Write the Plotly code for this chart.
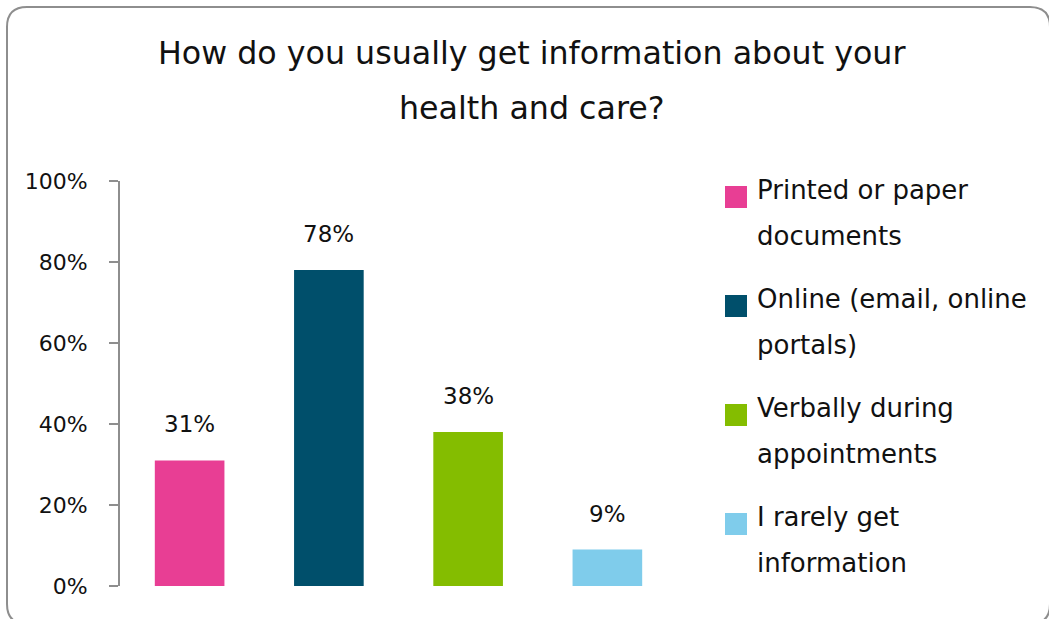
import plotly.graph_objects as go

# Survey results
categories = [
    "Printed or paper documents",
    "Online (email, online portals)",
    "Verbally during appointments",
    "I rarely get information",
]
values = [31, 78, 38, 9]
value_labels = ["31%", "78%", "38%", "9%"]
legend_lines = [
    ["Printed or paper", "documents"],
    ["Online (email, online", "portals)"],
    ["Verbally during", "appointments"],
    ["I rarely get", "information"],
]
colors = ["#E83E94", "#004F6B", "#84BD00", "#7FCCEB"]
title_lines = ["How do you usually get information about your", "health and care?"]
y_ticks = [0, 20, 40, 60, 80, 100]
y_tick_text = ["0%", "20%", "40%", "60%", "80%", "100%"]

W, H = 1049, 619
L, R, T, B = 120, 372, 181, 33
PW, PH = W - L - R, H - T - B
FONT = "DejaVu Sans"
GRAY = "#8E8E8E"


def fx(p):
    return (p - L) / PW


def fy(p):
    return (H - B - p) / PH


fig = go.Figure(
    go.Bar(
        x=categories,
        y=values,
        marker=dict(color=colors, line=dict(width=0)),
        width=0.5,
        showlegend=False,
        hoverinfo="skip",
    )
)

annotations = []
# value labels above each bar
for cat, v, lab in zip(categories, values, value_labels):
    annotations.append(dict(
        x=cat, y=v, xref="x", yref="y", text=lab, showarrow=False,
        yanchor="middle", yshift=36, font=dict(size=23, color="#111111", family=FONT),
    ))

# title, two lines
for i, line in enumerate(title_lines):
    annotations.append(dict(
        x=fx(532), y=fy(53 + 55 * i), xref="paper", yref="paper", text=line,
        showarrow=False, xanchor="center", yanchor="middle",
        font=dict(size=31.7, color="#111111", family=FONT),
    ))

shapes = []
# legend: colour squares with wrapped labels
for k, (lines, col) in enumerate(zip(legend_lines, colors)):
    cy = 197 + 109 * k
    shapes.append(dict(
        type="rect", xref="paper", yref="paper",
        x0=fx(725), x1=fx(747), y0=fy(cy - 11), y1=fy(cy + 11),
        fillcolor=col, line=dict(width=0),
    ))
    for j, line in enumerate(lines):
        annotations.append(dict(
            x=fx(755), y=fy(190 + 109 * k + 46 * j), xref="paper", yref="paper",
            text=line, showarrow=False, xanchor="left", yanchor="middle",
            font=dict(size=26, color="#111111", family=FONT),
        ))

# rounded outer frame
x0, x1, y0, y1, r = 7, 1050, 7, 624, 20
path = (
    f"M {fx(x0 + r)},{fy(y0)} L {fx(x1 - r)},{fy(y0)} "
    f"Q {fx(x1)},{fy(y0)} {fx(x1)},{fy(y0 + r)} "
    f"L {fx(x1)},{fy(y1 - r)} Q {fx(x1)},{fy(y1)} {fx(x1 - r)},{fy(y1)} "
    f"L {fx(x0 + r)},{fy(y1)} Q {fx(x0)},{fy(y1)} {fx(x0)},{fy(y1 - r)} "
    f"L {fx(x0)},{fy(y0 + r)} Q {fx(x0)},{fy(y0)} {fx(x0 + r)},{fy(y0)} Z"
)
shapes.append(dict(type="path", path=path, xref="paper", yref="paper",
                   line=dict(color=GRAY, width=2), layer="below"))

fig.update_layout(
    width=W, height=H,
    margin=dict(l=L, r=R, t=T, b=B, autoexpand=False),
    paper_bgcolor="white", plot_bgcolor="white",
    font=dict(family=FONT, color="#111111"),
    annotations=annotations,
    shapes=shapes,
    xaxis=dict(range=[-0.5, 3.5], showticklabels=False, showgrid=False,
               zeroline=False, showline=False, ticks="", fixedrange=True),
    yaxis=dict(range=[0, 100], tickvals=y_ticks, ticktext=y_tick_text,
               showgrid=False, zeroline=False, showline=True, linecolor=GRAY,
               linewidth=2, ticks="outside", ticklen=9, tickwidth=2, tickcolor=GRAY,
               ticklabelstandoff=17, tickfont=dict(size=22, color="#111111", family=FONT),
               fixedrange=True),
)

fig.write_html("out.html")
